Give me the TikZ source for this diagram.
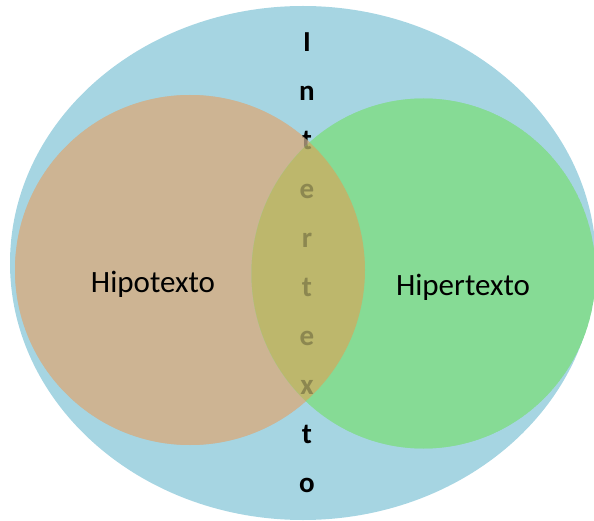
\documentclass[tikz,border=0pt]{standalone}
\usepackage{fontspec}
\setmainfont{Carlito}
\definecolor{bigblue}{HTML}{A6D5E2}
\definecolor{tanc}{HTML}{CDB493}
\definecolor{greenc}{HTML}{86DB95}
\definecolor{lensc}{HTML}{BDB76C}
\tikzset{
  vletter/.style={anchor=base, inner sep=0pt, font=\fontsize{29}{29}\selectfont\bfseries, text=black},
  label/.style={anchor=base, inner sep=0pt, font=\fontsize{31}{31}\selectfont, text=black},
}
\begin{document}
\begin{tikzpicture}[x=1pt,y=-1pt]
\useasboundingbox (0,0) rectangle (594,521);
% outer ellipse
\fill[bigblue] (303,263) ellipse [x radius=293, y radius=257];
% circles
\fill[tanc] (190,270) ellipse [x radius=175, y radius=175];
\fill[greenc] (423.5,273.5) ellipse [x radius=172, y radius=175];
\begin{scope}
  \clip (190,270) ellipse [x radius=175, y radius=175];
  \fill[lensc] (423.5,273.5) ellipse [x radius=172, y radius=175];
\end{scope}
% vertical word
\foreach \ch [count=\i from 0] in {I,n,t,e,r,t,e,x,t,o} {
  \node[vletter] (v\i) at (307,{52+48.9*\i}) {\ch};
}
% overlays over the letters
\begin{scope}
  \clip (190,270) ellipse [x radius=175, y radius=175];
  \fill[tanc, fill opacity=0.72, even odd rule] (190,270) ellipse [x radius=175, y radius=175] (423.5,273.5) ellipse [x radius=172, y radius=175];
  \fill[lensc, fill opacity=0.74] (423.5,273.5) ellipse [x radius=172, y radius=175];
\end{scope}
\begin{scope}
  \clip (423.5,273.5) ellipse [x radius=172, y radius=175];
  \fill[greenc, fill opacity=0.72, even odd rule] (190,270) ellipse [x radius=175, y radius=175] (423.5,273.5) ellipse [x radius=172, y radius=175];
\end{scope}
% labels
\node[label] (hipo) at (153,292.5) {Hipotexto};
\node[label] (hiper) at (463,295) {Hipertexto};
\end{tikzpicture}
\end{document}
